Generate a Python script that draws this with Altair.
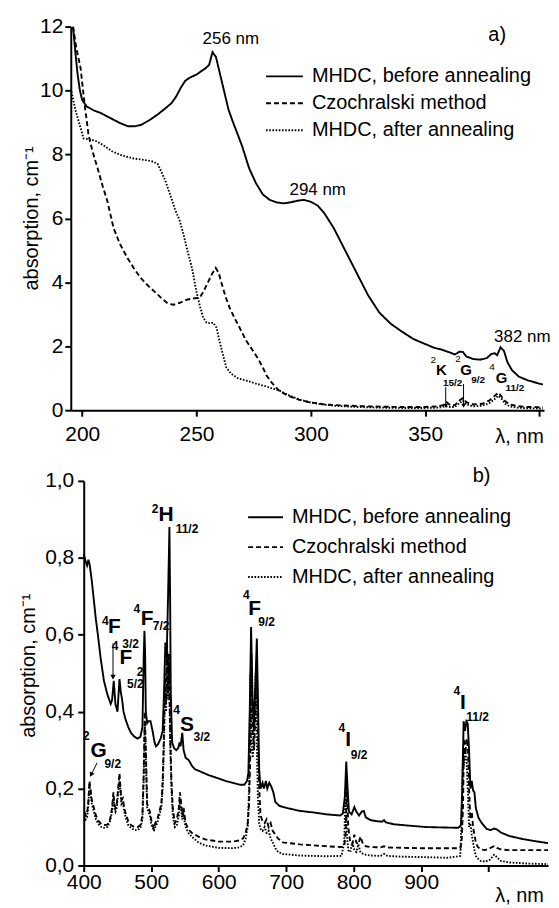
import altair as alt
import pandas as pd

FONT = "Liberation Sans"
SERIES = ["MHDC, before annealing", "Czochralski method", "MHDC, after annealing"]
DASH_RANGE = [[1, 0], [5, 3], [1.6, 1.6]]
WIDTH_RANGE = [1.9, 1.9, 1.3]

# ---------------- panel a (UV) : (wavelength nm, absorption cm-1) ----------------
A_SOLID = [(196, 12.0), (197, 11.2), (198, 10.5), (199, 10.0), (200, 9.7), (202, 9.5), (205, 9.38),
           (208, 9.3), (212, 9.15), (216, 9.0), (220, 8.88), (223, 8.88), (226, 8.93), (230, 9.1),
           (233, 9.25), (236, 9.42), (239, 9.6), (241, 9.8), (243, 10.07), (245, 10.3), (247, 10.4),
           (250, 10.5), (252, 10.6), (254, 10.7), (255.5, 10.8), (257, 11.2), (258.5, 11.05),
           (260, 10.6), (262, 10.0), (264, 9.4), (266, 9.0), (268, 8.63), (270, 8.25), (273, 7.57),
           (276, 7.1), (279, 6.75), (282, 6.58), (285, 6.5), (288, 6.47), (291, 6.5), (294, 6.55),
           (297, 6.58), (300, 6.52), (303, 6.4), (306, 6.15), (310, 5.7), (315, 5.0), (320, 4.3),
           (325, 3.6), (330, 3.05), (335, 2.7), (340, 2.45), (345, 2.22), (350, 2.07), (354, 1.95),
           (357, 1.9), (359, 1.85), (361, 1.8), (363, 1.74), (365, 1.83), (366.5, 1.82), (368, 1.68),
           (371, 1.6), (374, 1.58), (377, 1.63), (379, 1.76), (380.5, 1.78), (381.5, 1.72),
           (383, 1.97), (384.5, 1.85), (386, 1.5), (388, 1.25), (391, 1.05), (395, 0.93), (401.5, 0.8)]
A_DASHED = [(196, 12.0), (197.5, 11.3), (199.3, 10.7), (201, 9.6), (202.8, 8.6), (204.5, 8.1),
            (206.6, 7.6), (209, 7.0), (211, 6.54), (213.7, 5.7), (216.5, 5.2), (219.7, 4.77),
            (222.5, 4.45), (225.4, 4.15), (229, 3.88), (232.7, 3.64), (235, 3.48), (237.6, 3.33),
            (240, 3.3), (242.7, 3.36), (245.5, 3.45), (248, 3.49), (251.4, 3.52), (253, 3.7),
            (255, 4.0), (256.7, 4.25), (258.4, 4.45), (259.7, 4.3), (261, 3.96), (262.7, 3.55),
            (264.5, 3.2), (266.5, 2.9), (268.8, 2.59), (271.5, 2.2), (274.6, 1.87), (277, 1.6),
            (279, 1.34), (280.5, 1.1), (283, 0.85), (286, 0.62), (290, 0.45), (295, 0.32), (300, 0.24),
            (305, 0.19), (310, 0.16), (320, 0.13), (330, 0.11), (340, 0.1), (350, 0.1), (355, 0.12),
            (358, 0.16), (359.5, 0.25), (361, 0.15), (363, 0.16), (365, 0.3), (366.5, 0.38),
            (368, 0.25), (371, 0.18), (375, 0.2), (378, 0.3), (380, 0.42), (382, 0.55), (383.5, 0.42),
            (385, 0.28), (387, 0.18), (390, 0.13), (395, 0.1), (401.5, 0.09)]
A_DOTTED = [(195.3, 9.97), (197, 9.4), (199, 8.9), (200.6, 8.5), (203, 8.48), (206, 8.42), (209, 8.3),
            (213, 8.1), (217, 7.98), (222, 7.88), (227, 7.83), (231, 7.78), (233, 7.7), (234.5, 7.48),
            (236.5, 7.15), (238.4, 6.76), (240.5, 6.3), (242.7, 5.92), (244.3, 5.5), (246, 5.0),
            (248, 4.45), (250, 3.7), (251.5, 3.25), (252.9, 2.9), (254.4, 2.74), (256, 2.72),
            (257.3, 2.74), (258.7, 2.59), (260, 2.18), (261.5, 1.75), (263, 1.34), (265, 1.15),
            (268, 1.0), (272, 0.92), (276, 0.83), (280, 0.75), (286, 0.62), (290, 0.48), (295, 0.33),
            (300, 0.24), (305, 0.18), (310, 0.14), (320, 0.1), (330, 0.08), (340, 0.07), (350, 0.07),
            (356, 0.08), (359, 0.12), (361, 0.1), (363, 0.1), (365, 0.22), (366.5, 0.3), (368, 0.18),
            (371, 0.12), (375, 0.14), (378, 0.22), (380, 0.32), (382, 0.45), (383.5, 0.35),
            (385, 0.2), (387, 0.12), (390, 0.08), (395, 0.06), (401.5, 0.05)]

# ---------------- panel b (VIS-NIR) ----------------
B_SOLID = [(400, 0.81), (403, 0.79), (405, 0.78), (407, 0.795), (409, 0.78), (412, 0.74), (415, 0.69),
           (418, 0.64), (421, 0.6), (425, 0.54), (430, 0.48), (435, 0.445), (440, 0.42), (442, 0.43),
           (444.5, 0.48), (447, 0.42), (450, 0.4), (453, 0.485), (455, 0.45), (457, 0.43), (459, 0.4),
           (462, 0.38), (466, 0.36), (470, 0.345), (475, 0.335), (480, 0.33), (484, 0.335),
           (487, 0.36), (489, 0.55), (490, 0.61), (491, 0.55), (492, 0.4), (494, 0.37), (496, 0.375),
           (499, 0.375), (502, 0.35), (505, 0.32), (507, 0.31), (510, 0.315), (514, 0.33),
           (517, 0.35), (519, 0.45), (521, 0.58), (523, 0.55), (525, 0.7), (527, 0.88), (528, 0.7),
           (529, 0.45), (531, 0.32), (534, 0.305), (537, 0.3), (540, 0.305), (542, 0.32),
           (543.5, 0.31), (546, 0.345), (548, 0.3), (551, 0.28), (555, 0.275), (557, 0.27),
           (560, 0.26), (565, 0.25), (572, 0.245), (585, 0.235), (597, 0.228), (610, 0.22),
           (621, 0.215), (632, 0.21), (638, 0.21), (642, 0.22), (644, 0.24), (646, 0.4), (648, 0.62),
           (650, 0.45), (652, 0.35), (654, 0.45), (656.5, 0.59), (658, 0.45), (660, 0.25),
           (662, 0.2), (665, 0.215), (667, 0.2), (670, 0.22), (672, 0.2), (675, 0.215), (678, 0.205),
           (681, 0.19), (684, 0.165), (690, 0.155), (700, 0.15), (720, 0.142), (740, 0.138),
           (760, 0.133), (780, 0.13), (784, 0.135), (787, 0.18), (789, 0.27), (791, 0.2),
           (793, 0.14), (797, 0.133), (801, 0.152), (804, 0.14), (808, 0.13), (812, 0.14),
           (815, 0.142), (818, 0.125), (825, 0.118), (835, 0.115), (842, 0.114), (845, 0.118),
           (848, 0.112), (860, 0.107), (880, 0.104), (907, 0.1), (930, 0.099), (955, 0.098),
           (959, 0.105), (961, 0.2), (963, 0.375), (965, 0.35), (967, 0.375), (969, 0.37),
           (971, 0.3), (973, 0.2), (975, 0.22), (977, 0.195), (979, 0.19), (981, 0.15),
           (985, 0.124), (990, 0.11), (997, 0.095), (1003, 0.092), (1008, 0.096), (1012, 0.094),
           (1018, 0.086), (1030, 0.077), (1050, 0.069), (1070, 0.063), (1099, 0.055)]
B_DASHED = [(401, 0.14), (403, 0.13), (405, 0.135), (407, 0.17), (408.5, 0.22), (410, 0.2), (412, 0.17),
            (415, 0.15), (418, 0.13), (422, 0.115), (426, 0.108), (430, 0.105), (435, 0.106),
            (439, 0.12), (442, 0.15), (444, 0.19), (445.5, 0.16), (447, 0.15), (449, 0.16),
            (451, 0.2), (453, 0.24), (454.5, 0.2), (456, 0.17), (458, 0.175), (460, 0.15),
            (463, 0.13), (466, 0.115), (470, 0.105), (475, 0.1), (480, 0.1), (484, 0.105),
            (487, 0.13), (489, 0.25), (490.5, 0.4), (492, 0.3), (494, 0.16), (496, 0.15),
            (498, 0.14), (500, 0.12), (502, 0.105), (504, 0.095), (506, 0.11), (509, 0.12),
            (512, 0.14), (515, 0.16), (517, 0.22), (519, 0.35), (520.5, 0.5), (522, 0.42),
            (523.5, 0.58), (525, 0.45), (526.5, 0.55), (528, 0.35), (530, 0.22), (532, 0.15),
            (535, 0.11), (538, 0.12), (541, 0.15), (542.5, 0.19), (544, 0.17), (546, 0.13),
            (548, 0.15), (551, 0.11), (555, 0.095), (560, 0.085), (570, 0.075), (580, 0.068),
            (600, 0.062), (620, 0.062), (630, 0.065), (636, 0.07), (640, 0.085), (643, 0.11),
            (645, 0.16), (647, 0.3), (648.5, 0.55), (650.5, 0.35), (652.5, 0.3), (654.5, 0.4),
            (656.5, 0.53), (658, 0.35), (660, 0.2), (662, 0.13), (665, 0.115), (668, 0.11),
            (671, 0.12), (674, 0.1), (677, 0.11), (680, 0.09), (684, 0.08), (688, 0.07),
            (695, 0.06), (720, 0.055), (760, 0.05), (782, 0.048), (786, 0.05), (788, 0.08),
            (790, 0.22), (792, 0.1), (795, 0.06), (798, 0.055), (801, 0.08), (804, 0.06),
            (807, 0.055), (810, 0.075), (814, 0.055), (818, 0.05), (825, 0.048), (840, 0.047),
            (845, 0.05), (850, 0.047), (870, 0.046), (900, 0.045), (940, 0.045), (958, 0.045),
            (960, 0.06), (962, 0.15), (963.5, 0.33), (965.5, 0.29), (967.5, 0.33), (969.5, 0.3),
            (971, 0.2), (973, 0.12), (975, 0.14), (977, 0.1), (979, 0.08), (981, 0.06),
            (984, 0.048), (988, 0.042), (995, 0.04), (1002, 0.045), (1008, 0.05), (1012, 0.046),
            (1018, 0.042), (1030, 0.04), (1060, 0.04), (1099, 0.04)]
B_DOTTED = [(401, 0.13), (403, 0.12), (405, 0.125), (407, 0.16), (408.5, 0.21), (410, 0.19), (412, 0.16),
            (415, 0.14), (418, 0.12), (422, 0.108), (426, 0.1), (430, 0.098), (435, 0.1),
            (439, 0.115), (442, 0.14), (444, 0.18), (445.5, 0.15), (447, 0.14), (449, 0.15),
            (451, 0.19), (453, 0.22), (454.5, 0.19), (456, 0.16), (458, 0.165), (460, 0.14),
            (463, 0.12), (466, 0.105), (470, 0.098), (475, 0.092), (480, 0.092), (484, 0.098),
            (487, 0.12), (489, 0.23), (490.5, 0.37), (492, 0.28), (494, 0.15), (496, 0.14),
            (498, 0.13), (500, 0.11), (502, 0.098), (504, 0.09), (506, 0.1), (509, 0.11),
            (512, 0.13), (515, 0.15), (517, 0.2), (519, 0.32), (520.5, 0.47), (522, 0.4),
            (523.5, 0.56), (525, 0.43), (526.5, 0.52), (528, 0.33), (530, 0.2), (532, 0.13),
            (535, 0.1), (538, 0.105), (541, 0.13), (542.5, 0.17), (544, 0.15), (546, 0.12),
            (548, 0.13), (551, 0.1), (555, 0.085), (560, 0.075), (570, 0.06), (580, 0.052),
            (600, 0.046), (620, 0.045), (630, 0.047), (636, 0.052), (640, 0.07), (643, 0.1),
            (645, 0.2), (647, 0.5), (648.5, 0.32), (650.5, 0.28), (652.5, 0.36), (654.5, 0.5),
            (656.5, 0.32), (658, 0.18), (660, 0.11), (662, 0.095), (665, 0.09), (668, 0.1),
            (671, 0.085), (674, 0.09), (677, 0.07), (680, 0.06), (684, 0.045), (688, 0.035),
            (695, 0.03), (720, 0.026), (760, 0.024), (782, 0.025), (786, 0.06), (788, 0.2),
            (790, 0.08), (792, 0.04), (795, 0.035), (798, 0.06), (801, 0.04), (804, 0.035),
            (807, 0.055), (810, 0.035), (814, 0.03), (818, 0.028), (825, 0.026), (840, 0.025),
            (845, 0.03), (850, 0.025), (870, 0.023), (900, 0.022), (940, 0.02), (958, 0.025),
            (960, 0.12), (962, 0.3), (963.5, 0.26), (965.5, 0.3), (967.5, 0.27), (969.5, 0.18),
            (971, 0.1), (973, 0.11), (975, 0.08), (977, 0.06), (979, 0.04), (981, 0.025),
            (984, 0.018), (988, 0.012), (995, 0.01), (1002, 0.015), (1008, 0.028), (1012, 0.022),
            (1018, 0.012), (1030, 0.008), (1060, 0.005), (1099, 0.003)]

# ---------------- annotations ----------------
A_NOTES = [("256 nm", 265, 11.6), ("294 nm", 303, 6.9), ("382 nm", 392.5, 2.28)]
A_PANEL = [("a)", 381.5, 11.75)]
A_BIG = [("K", 357.1, 1.25), ("G", 367.9, 1.25), ("G", 383.4, 1.02)]
A_SUP = [("2", 353.6, 1.58), ("2", 364.4, 1.6), ("4", 379.3, 1.36)]
A_SUB = [("15/2", 362.0, 0.84), ("9/2", 373.2, 0.93), ("11/2", 389.3, 0.7)]
A_ARROWS = [(359.0, 0.72, 359.0, 0.14), (366.8, 0.82, 366.8, 0.14)]

B_PANEL = [("b)", 989.5, 1.013)]
B_BIG = [("H", 522, 0.912), ("F", 653.2, 0.668), ("F", 494, 0.642), ("F", 445.4, 0.619),
         ("F", 462.5, 0.54), ("S", 553, 0.365), ("G", 422, 0.298), ("I", 791.9, 0.326),
         ("I", 962, 0.422)]
B_SUP = [("2", 505.8, 0.927), ("4", 641, 0.703), ("4", 478.8, 0.668), ("4", 432, 0.637),
         ("4", 446.5, 0.572), ("4", 537.7, 0.405), ("2", 404, 0.337), ("4", 782.6, 0.357),
         ("4", 953, 0.453), ("2", 483.5, 0.503)]
B_SUB = [("11/2", 553, 0.876), ("9/2", 671, 0.632), ("7/2", 514.6, 0.624), ("3/2", 469.5, 0.576),
         ("5/2", 476.5, 0.472), ("3/2", 575, 0.334), ("9/2", 443, 0.264), ("9/2", 808, 0.288),
         ("11/2", 983.6, 0.386)]
B_ARROWS = [(443.4, 0.578, 443.4, 0.49), (419.8, 0.267, 411.0, 0.236)]


def frame(series_list):
    rows = []
    for name, pts in zip(SERIES, series_list):
        for lam, v in pts:
            rows.append({"lam": lam, "val": v, "series": name})
    return pd.DataFrame(rows)


def tframe(items):
    return pd.DataFrame([{"text": t, "lam": x, "val": y} for t, x, y in items])


def aframe(items):
    return pd.DataFrame([{"lam": a, "val": b, "lam2": c, "val2": d} for a, b, c, d in items])


def panel(df, xscale, yscale, xvals, hide, yvals, ylabel_expr, width, height,
          yoffset, ytitle_x, ytitle_y, xtitle_x, xtitle_y, label_pad_x, label_pad_y,
          leg_x, leg_y, sym_path, sym_size, leg_label_off, texts):
    hide_expr = " || ".join(f"datum.value == {h}" for h in hide)
    x_axis = alt.Axis(values=xvals, labelExpr=f"({hide_expr}) ? '' : datum.label",
                      title="λ, nm", titleX=xtitle_x, titleY=xtitle_y, titleAlign="center",
                      titleBaseline="middle", titleFontWeight="normal", titleFontSize=20,
                      labelPadding=label_pad_x, labelFlush=False, labelOverlap=False)
    y_kwargs = dict(values=yvals, title="absorption, cm⁻¹", titleX=ytitle_x, titleY=ytitle_y,
                    titleAlign="center", titleBaseline="middle", titleAngle=270,
                    titleFontWeight="normal", titleFontSize=20, labelPadding=label_pad_y,
                    labelFlush=False, labelOverlap=False, offset=yoffset)
    if ylabel_expr:
        y_kwargs["labelExpr"] = ylabel_expr
    y_axis = alt.Axis(**y_kwargs)

    lines = alt.Chart(df).mark_line(color="black", interpolate="linear", clip=True).encode(
        x=alt.X("lam:Q", scale=xscale, axis=x_axis),
        y=alt.Y("val:Q", scale=yscale, axis=y_axis),
        strokeDash=alt.StrokeDash(
            "series:N", scale=alt.Scale(domain=SERIES, range=DASH_RANGE),
            legend=alt.Legend(title=None, orient="none", legendX=leg_x, legendY=leg_y,
                              symbolType=sym_path, symbolSize=sym_size, symbolStrokeWidth=1.8,
                              symbolStrokeColor="black", labelFontSize=20, labelFont=FONT,
                              labelColor="black", labelOffset=leg_label_off, labelLimit=400,
                              padding=0, rowPadding=0)),
        strokeWidth=alt.StrokeWidth("series:N", scale=alt.Scale(domain=SERIES, range=WIDTH_RANGE),
                                    legend=None),
        detail="series:N",
    )
    layers = [lines]
    for dfx, size, weight in texts:
        layers.append(
            alt.Chart(dfx).mark_text(font=FONT, fontSize=size, fontWeight=weight, color="black",
                                     align="center", baseline="middle").encode(
                x=alt.X("lam:Q", scale=xscale), y=alt.Y("val:Q", scale=yscale), text="text:N"))
    return alt.layer(*layers).properties(width=width, height=height)


df_a = frame([A_SOLID, A_DASHED, A_DOTTED])
df_b = frame([B_SOLID, B_DASHED, B_DOTTED])

A_XSCALE = alt.Scale(domain=[195, 402], nice=False, zero=False)
A_YSCALE = alt.Scale(domain=[0, 12], nice=False, zero=False)
B_XSCALE = alt.Scale(domain=[400, 1088], nice=False, zero=False, range=[13, 479])
B_YSCALE = alt.Scale(domain=[0, 1.0], nice=False, zero=False)

pa = panel(df_a, A_XSCALE, A_YSCALE, [200, 250, 300, 350, 400], [400], [0, 2, 4, 6, 8, 10, 12], None,
           475, 385, 0, -39.5, 192, 450, 26, 7, 2, 197.5, 33, "M-1.156,0H1.156", 1024, 10.5,
           [(tframe(A_NOTES), 17, "normal"), (tframe(A_PANEL), 20, "normal"),
            (tframe(A_BIG), 15, "bold"), (tframe(A_SUP), 10, "normal"),
            (tframe(A_SUB), 10, "bold")])
arrow_a = aframe(A_ARROWS)
pa_arrows = alt.Chart(arrow_a).mark_rule(color="black", strokeWidth=1).encode(
    x=alt.X("lam:Q", scale=A_XSCALE), y=alt.Y("val:Q", scale=A_YSCALE), x2="lam2:Q", y2="val2:Q")
pa_heads = alt.Chart(arrow_a).mark_point(shape="triangle-down", filled=True, color="black",
                                         size=22, opacity=1).encode(
    x=alt.X("lam2:Q", scale=A_XSCALE), y=alt.Y("val2:Q", scale=A_YSCALE))
pa = alt.layer(pa, pa_arrows, pa_heads)

pb = panel(df_b, B_XSCALE, B_YSCALE, [400, 500, 600, 700, 800, 900, 1000], [1000],
           [0, 0.2, 0.4, 0.6, 0.8, 1.0], "replace(format(datum.value, '.1f'), '.', ',')",
           479, 386, -13, -55.5, 185, 450, 30, 0, 4, 176, 17, "M-0.946,0H0.946", 1369, 7,
           [(tframe(B_PANEL), 20, "normal"), (tframe(B_BIG), 21, "bold"),
            (tframe(B_SUP), 12, "bold"), (tframe(B_SUB), 12, "bold")])
arrow_b = aframe(B_ARROWS).assign(ang=[180, 207])
pb_arrows = alt.Chart(arrow_b).mark_rule(color="black", strokeWidth=1).encode(
    x=alt.X("lam:Q", scale=B_XSCALE), y=alt.Y("val:Q", scale=B_YSCALE), x2="lam2:Q", y2="val2:Q")
pb_heads = alt.Chart(arrow_b).mark_point(
    shape="triangle-up", filled=True, color="black", size=30, opacity=1).encode(
    x=alt.X("lam2:Q", scale=B_XSCALE), y=alt.Y("val2:Q", scale=B_YSCALE),
    angle=alt.Angle("ang:Q", scale=None))
pb = alt.layer(pb, pb_arrows, pb_heads)

chart = alt.vconcat(pa, pb, spacing=19).resolve_scale(
    strokeDash="independent", strokeWidth="independent", x="independent", y="independent"
).resolve_legend(strokeDash="independent").properties(
    padding={"top": 6, "left": 10, "right": 0, "bottom": 0}
).configure_view(stroke=None).configure_axis(
    grid=False, domainColor="black", domainWidth=2, tickColor="black", tickWidth=2, tickSize=6,
    labelFont=FONT, labelFontSize=21, labelColor="black", titleFont=FONT, titleColor="black"
).configure_text(font=FONT)

chart.save("out.html", embed_options={"renderer": "svg", "actions": False})
